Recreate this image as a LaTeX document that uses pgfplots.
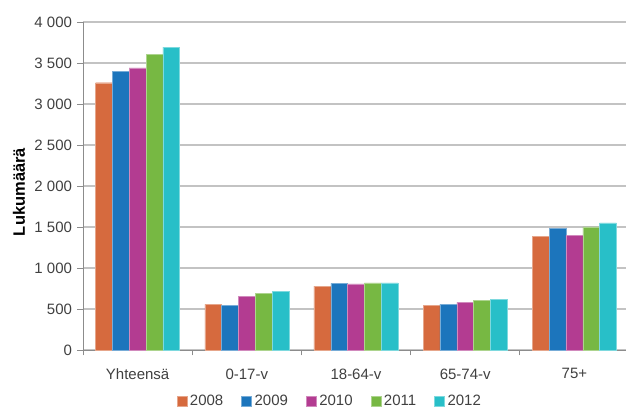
\documentclass[border=0pt]{standalone}
\usepackage{pgfplots}
\pgfplotsset{compat=1.18}
\usepackage{pgfplotstable}
\usepackage{fontspec}
\setmainfont{Liberation Sans}
\definecolor{c08}{HTML}{D66A3E}
\definecolor{c09}{HTML}{1C75BC}
\definecolor{c10}{HTML}{B33C91}
\definecolor{c11}{HTML}{77B843}
\definecolor{c12}{HTML}{28BFC8}
\definecolor{txt}{HTML}{404040}
\definecolor{axg}{HTML}{8C8C8C}
\definecolor{grd}{HTML}{C3C3C3}
\pgfplotstableread{
x y2008 y2009 y2010 y2011 y2012
0 3260 3395 3440 3605 3695
1 555 542 655 693 713
2 778 812 805 818 818
3 542 560 582 603 620
4 1388 1486 1400 1500 1550
}\datatable
\begin{document}
\begin{tikzpicture}
\useasboundingbox (-83pt,-59pt) rectangle (543pt,350pt);
\begin{axis}[
  at={(0,0)}, anchor=south west,
  scale only axis,
  width=546pt, height=328pt,
  xmin=-0.5, xmax=4.5,
  ymin=0, ymax=4000,
  ytick={0,500,...,4000},
  xtick={-0.5,0.5,...,4.5},
  xticklabels={},
  extra x ticks={0,1,2,3,4},
  extra x tick labels={Yhteensä,0-17-v,18-64-v,65-74-v,75+},
  extra x tick style={major tick length=0pt, grid=none, tick style={draw=none}},
  major tick length=5.5pt,
  tick style={draw=axg, line width=0.8pt},
  tick align=outside,
  axis x line*=bottom, axis y line*=left,
  axis line style={draw=axg, line width=0.8pt, -},
  ymajorgrids, grid style={draw=grd, line width=1.1pt},
  /pgf/number format/assume math mode=true,
  /pgf/number format/1000 sep={\ },
  tick label style={font=\fontsize{15}{17}\selectfont, text=txt},
  xticklabel style={yshift=-15pt},
  yticklabel style={xshift=-2pt},
  ylabel={\bfseries\fontsize{16.5}{18}\selectfont Lukumäärä},
  every axis y label/.style={at={(rel axis cs:0,0.5)}, xshift=-64pt, yshift=-6pt, rotate=90, anchor=center, text=black},
  ybar=0pt, bar width=0.154,
  legend columns=5,
  legend style={at={(rel axis cs:0.452,-0.157)}, anchor=center, draw=none, fill=none,
    font=\fontsize{15}{17}\selectfont, text=txt,
    nodes={inner ysep=0.5pt},
    /tikz/every odd column/.append style={column sep=1pt},
    /tikz/every even column/.append style={column sep=16pt}},
  legend image code/.code={\fill[#1] (-2pt,-5pt) rectangle (8pt,5pt);},
  clip=false,
]
\addplot[fill=c08, draw=c08!60!white, line width=0.3pt] table[x=x,y=y2008] {\datatable};
\addplot[fill=c09, draw=c09!60!white, line width=0.3pt] table[x=x,y=y2009] {\datatable};
\addplot[fill=c10, draw=c10!60!white, line width=0.3pt] table[x=x,y=y2010] {\datatable};
\addplot[fill=c11, draw=c11!60!white, line width=0.3pt] table[x=x,y=y2011] {\datatable};
\addplot[fill=c12, draw=c12!60!white, line width=0.3pt] table[x=x,y=y2012] {\datatable};
\legend{2008,2009,2010,2011,2012}
\end{axis}
\end{tikzpicture}
\end{document}
